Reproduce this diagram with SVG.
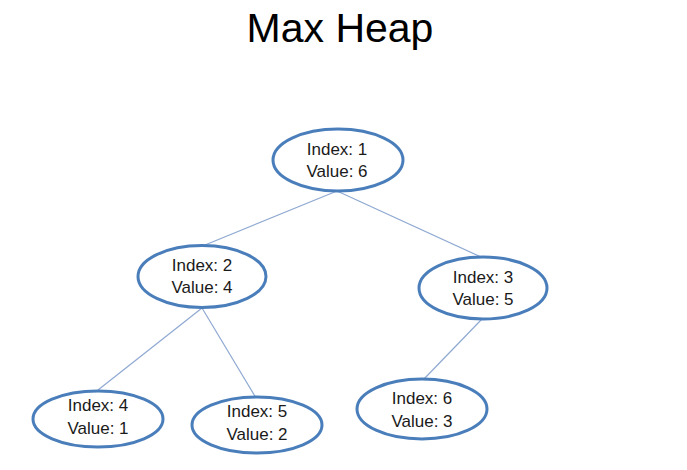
<svg xmlns="http://www.w3.org/2000/svg" width="687" height="470" viewBox="0 0 687 470">
<style>
.node ellipse{fill:#ffffff;stroke:#4a7ebb;stroke-width:3}
.node text{font-family:"Liberation Sans",Arial,sans-serif;font-size:17px;fill:#1a1a1a;text-anchor:middle}
.edges line{stroke:#8fa9d2;stroke-width:1.2}
.title{font-family:"Liberation Sans",Arial,sans-serif;font-size:41px;fill:#000;text-anchor:middle}
</style>
<rect width="687" height="470" fill="#ffffff"/>
<text class="title" x="340" y="42">Max Heap</text>
<g class="edges">
<line x1="337" y1="191" x2="205" y2="245"/>
<line x1="337" y1="191" x2="481" y2="257"/>
<line x1="202" y1="308" x2="98" y2="390"/>
<line x1="202" y1="308" x2="256" y2="398"/>
<line x1="482" y1="319" x2="423" y2="380"/>
</g>
<g id="node1" class="node"><ellipse cx="338" cy="160" rx="65" ry="31"/><text x="337" y="155">Index: 1</text><text x="337" y="177">Value: 6</text></g>
<g id="node2" class="node"><ellipse cx="202" cy="276.5" rx="64" ry="31"/><text x="202" y="271">Index: 2</text><text x="202" y="293">Value: 4</text></g>
<g id="node3" class="node"><ellipse cx="483" cy="288" rx="64" ry="31"/><text x="483" y="283">Index: 3</text><text x="483" y="305">Value: 5</text></g>
<g id="node4" class="node"><ellipse cx="98" cy="419" rx="65" ry="28"/><text x="98" y="411">Index: 4</text><text x="98" y="434">Value: 1</text></g>
<g id="node5" class="node"><ellipse cx="257" cy="425" rx="65" ry="28"/><text x="257" y="417">Index: 5</text><text x="257" y="440">Value: 2</text></g>
<g id="node6" class="node"><ellipse cx="422" cy="409" rx="65" ry="30"/><text x="422" y="404">Index: 6</text><text x="422" y="427">Value: 3</text></g>
</svg>
